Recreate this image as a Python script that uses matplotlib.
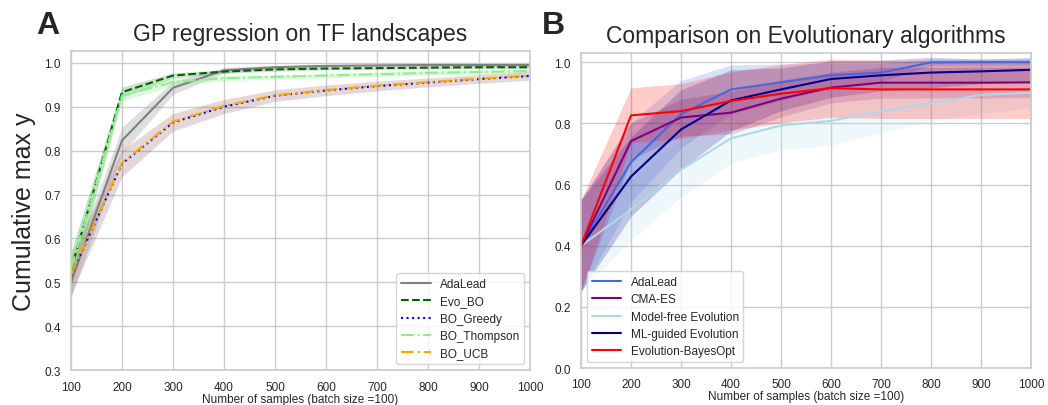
import numpy as np
import matplotlib
matplotlib.use("Agg")
import matplotlib.pyplot as plt
import seaborn as sns

sns.set_theme(style="whitegrid")
plt.rcParams['font.family'] = ['Liberation Sans', 'DejaVu Sans']

samples = [100, 200, 300, 400, 500, 600, 700, 800, 900, 1000]

# Panel A: GP regression on TF landscapes
a_names = ["AdaLead", "Evo_BO", "BO_Greedy", "BO_Thompson", "BO_UCB"]
a_adalead = [0.50, 0.823, 0.943, 0.983, 0.990, 0.993, 0.994, 0.995, 0.995, 0.995]
a_adalead_sd = [0.035, 0.03, 0.015, 0.006, 0.004, 0.003, 0.003, 0.003, 0.003, 0.003]
a_evobo = [0.528, 0.933, 0.971, 0.980, 0.985, 0.987, 0.988, 0.989, 0.990, 0.990]
a_evobo_sd = [0.04, 0.012, 0.006, 0.004, 0.004, 0.003, 0.003, 0.003, 0.003, 0.003]
a_greedy = [0.515, 0.770, 0.864, 0.900, 0.925, 0.937, 0.947, 0.955, 0.963, 0.970]
a_greedy_sd = [0.045, 0.03, 0.02, 0.016, 0.013, 0.012, 0.011, 0.010, 0.010, 0.010]
a_thompson = [0.530, 0.925, 0.956, 0.965, 0.968, 0.971, 0.974, 0.977, 0.979, 0.981]
a_thompson_sd = [0.035, 0.012, 0.008, 0.006, 0.005, 0.005, 0.005, 0.005, 0.005, 0.005]
a_ucb = [0.517, 0.772, 0.866, 0.902, 0.926, 0.938, 0.948, 0.956, 0.964, 0.971]
a_ucb_sd = [0.045, 0.03, 0.02, 0.016, 0.013, 0.012, 0.011, 0.010, 0.010, 0.010]

# Panel B: Comparison on Evolutionary algorithms
b_names = ["AdaLead", "CMA-ES", "Model-free Evolution", "ML-guided Evolution", "Evolution-BayesOpt"]
b_adalead = [0.40, 0.673, 0.830, 0.911, 0.934, 0.957, 0.966, 0.999, 1.0, 1.0]
b_adalead_sd = [0.15, 0.13, 0.11, 0.08, 0.06, 0.04, 0.03, 0.01, 0.01, 0.01]
b_cmaes = [0.40, 0.742, 0.819, 0.835, 0.881, 0.917, 0.933, 0.933, 0.933, 0.934]
b_cmaes_sd = [0.15, 0.06, 0.06, 0.07, 0.06, 0.05, 0.05, 0.05, 0.05, 0.05]
b_modelfree = [0.40, 0.518, 0.649, 0.751, 0.793, 0.808, 0.840, 0.866, 0.893, 0.900]
b_modelfree_sd = [0.15, 0.10, 0.09, 0.08, 0.08, 0.08, 0.07, 0.06, 0.06, 0.05]
b_mlguided = [0.40, 0.626, 0.780, 0.875, 0.911, 0.945, 0.957, 0.966, 0.970, 0.975]
b_mlguided_sd = [0.15, 0.13, 0.13, 0.10, 0.07, 0.06, 0.05, 0.05, 0.04, 0.04]
b_evobo = [0.40, 0.826, 0.840, 0.873, 0.897, 0.915, 0.911, 0.911, 0.911, 0.911]
b_evobo_sd = [0.15, 0.09, 0.09, 0.095, 0.095, 0.095, 0.095, 0.095, 0.095, 0.095]

fig = plt.figure(figsize=(10.48, 4.06), dpi=100)
ax1 = fig.add_axes([0.0677, 0.086, 0.438, 0.786])
ax2 = fig.add_axes([0.5544, 0.091, 0.4294, 0.776])

x = np.array(samples)

def band(ax, m, s, color, alpha):
    m = np.array(m); s = np.array(s)
    ax.fill_between(x, m - s, m + s, color=color, alpha=alpha, linewidth=0)

# Panel A
a_series = [
    (a_adalead, a_adalead_sd, "gray", "-", 0.25),
    (a_evobo, a_evobo_sd, "darkgreen", "--", 0.2),
    (a_greedy, a_greedy_sd, "blue", ":", 0.12),
    (a_thompson, a_thompson_sd, "lightgreen", "-.", 0.3),
    (a_ucb, a_ucb_sd, "orange", "-.", 0.15),
]
for (m, s, c, ls, al), name in zip(a_series, a_names):
    band(ax1, m, s, c, al)
for (m, s, c, ls, al), name in zip(a_series, a_names):
    if name == "BO_UCB":
        ax1.plot(x, m, color=c, linestyle=(0, (6, 2, 1, 2)), linewidth=1.5, label=name)
    else:
        ax1.plot(x, m, color=c, linestyle=ls, linewidth=1.5, label=name)

ax1.set_xlim(100, 1000)
ax1.set_ylim(0.3, 1.027)
ax1.set_xticks(samples)
ax1.set_yticks([0.3, 0.4, 0.5, 0.6, 0.7, 0.8, 0.9, 1.0])
ax1.set_title("GP regression on TF landscapes", fontsize=16.5, pad=8)
ax1.set_xlabel("Number of samples (batch size =100)", fontsize=8.5, labelpad=0)
ax1.set_ylabel("Cumulative max y", fontsize=18, labelpad=6)
ax1.tick_params(labelsize=8.5, pad=1.5)
ax1.legend(loc="lower right", fontsize=8.5, frameon=True, handlelength=2.5,
           labelspacing=0.45)

# Panel B
b_series = [
    (b_adalead, b_adalead_sd, "royalblue", 0.2),
    (b_cmaes, b_cmaes_sd, "purple", 0.2),
    (b_modelfree, b_modelfree_sd, "lightblue", 0.2),
    (b_mlguided, b_mlguided_sd, "darkblue", 0.2),
    (b_evobo, b_evobo_sd, "red", 0.2),
]
for (m, s, c, al), name in zip(b_series, b_names):
    band(ax2, m, s, c, al)
for (m, s, c, al), name in zip(b_series, b_names):
    ax2.plot(x, m, color=c, linewidth=1.5, label=name)

ax2.set_xlim(100, 1000)
ax2.set_ylim(0.0, 1.03)
ax2.set_xticks(samples)
ax2.set_yticks([0.0, 0.2, 0.4, 0.6, 0.8, 1.0])
ax2.set_title("Comparison on Evolutionary algorithms", fontsize=16.5, pad=8)
ax2.set_xlabel("Number of samples (batch size =100)", fontsize=8.5, labelpad=0)
ax2.tick_params(labelsize=8.5, pad=1.5)
ax2.legend(loc="lower left", fontsize=8.5, frameon=True, handlelength=2.5,
           labelspacing=0.45)

for ax in (ax1, ax2):
    for sp in ax.spines.values():
        sp.set_color("#cccccc")

fig.text(0.046, 0.935, "A", fontsize=23, fontweight="bold", ha="center", va="center")
fig.text(0.528, 0.935, "B", fontsize=23, fontweight="bold", ha="center", va="center")

fig.savefig("out.png", dpi=100)
